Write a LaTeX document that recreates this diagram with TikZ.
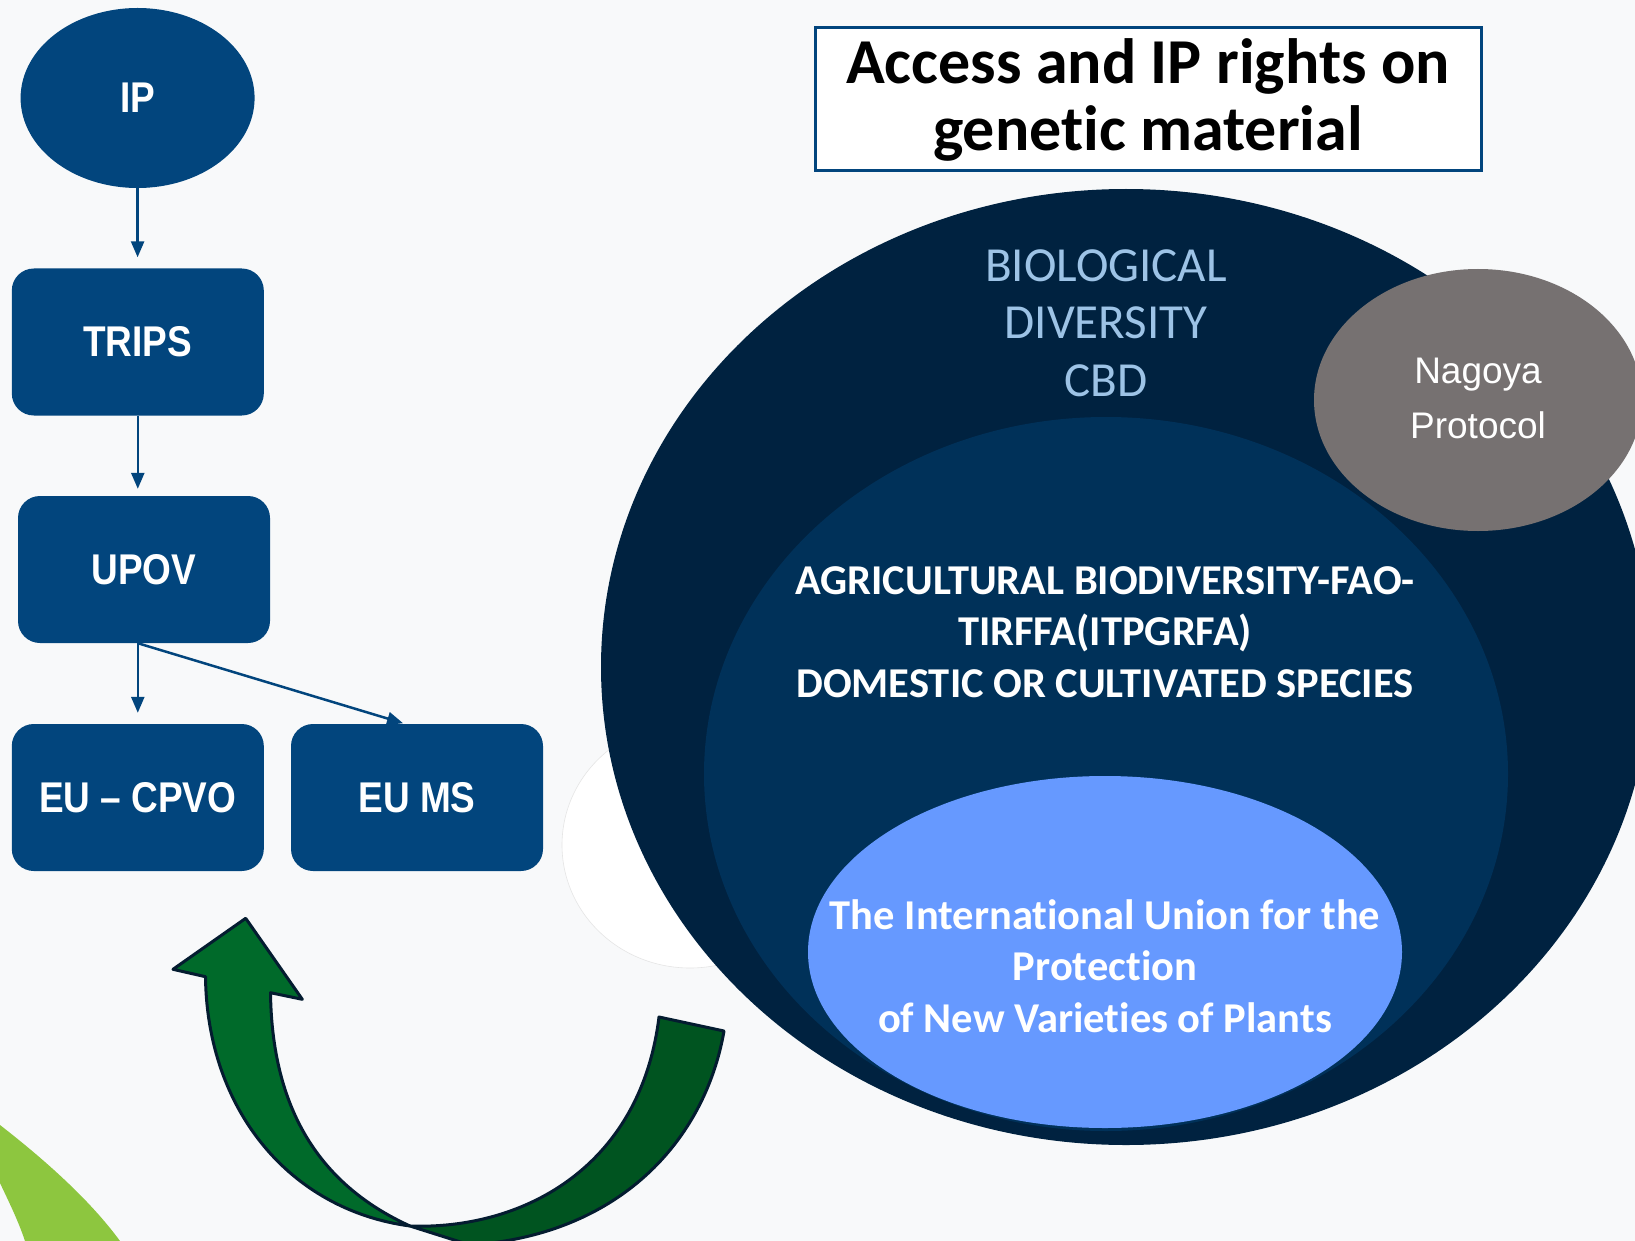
\documentclass[tikz,border=0pt]{standalone}
\usepackage{fontspec}
\setmainfont{Carlito}[Ligatures={NoCommon}]
\newfontfamily\arialfont{Liberation Sans}
\newfontfamily\narrowfont[FakeStretch=0.86]{Liberation Sans}
\usetikzlibrary{shapes.geometric,arrows.meta}

\definecolor{boxblue}{RGB}{2,69,125}
\definecolor{cbdnavy}{RGB}{0,34,64}
\definecolor{faonavy}{RGB}{0,49,89}
\definecolor{upovblue}{RGB}{102,153,255}
\definecolor{nagoyagray}{RGB}{118,113,113}
\definecolor{cbdtext}{RGB}{157,195,230}
\definecolor{arrowgreen}{RGB}{0,106,42}
\definecolor{arrowdark}{RGB}{0,84,32}
\definecolor{arrowedge}{RGB}{4,28,48}
\definecolor{limegreen}{RGB}{141,198,63}
\definecolor{pagebg}{RGB}{248,249,250}

\begin{document}
\begin{tikzpicture}[x=1pt,y=1pt,yscale=-1,
  bluebox/.style={fill=boxblue,rounded corners=22pt,minimum width=252pt,minimum height=147pt,inner sep=0pt,text=white,font=\narrowfont\bfseries\fontsize{43}{50}\selectfont},
  flowarrow/.style={draw=boxblue,line width=2.5pt,-{Triangle[length=16pt,width=13pt]},shorten >=11pt},
  bigarrow/.style={draw=arrowedge,line width=3pt,line join=round}]
\useasboundingbox (0,0) rectangle (1635,1241);
\clip (0,0) rectangle (1635,1241);
\fill[pagebg] (0,0) rectangle (1635,1241);

%Shape: Lime band
\fill[limegreen] (0,1125) .. controls (45,1160) and (90,1200) .. (120,1241) -- (25,1241) .. controls (18,1220) and (8,1200) .. (0,1183) -- cycle;
%Shape: Faint disc
\filldraw[fill=white,draw=black!10,line width=0.6pt] (690,845) ellipse [x radius=128,y radius=123];

%Shape: Nested ellipses
\fill[cbdnavy] (1126,667) ellipse [x radius=525,y radius=478];
\fill[faonavy] (1106,774) ellipse [x radius=402,y radius=357];
\fill[upovblue] (1105,952) ellipse [x radius=297,y radius=176];
\fill[nagoyagray] (1478,400) ellipse [x radius=164,y radius=131];

% Text Node
\node[draw=boxblue,line width=3pt,fill=white,minimum width=666pt,minimum height=143pt,align=center,font=\bfseries\fontsize{64}{67}\selectfont] (title) at (1148,99.5) {Access and IP rights on\\genetic material};
% Text Node
\node[text=cbdtext,align=center,font=\fontsize{49}{57.5}\selectfont] (cbd) at (1106,323) {BIOLOGICAL\\DIVERSITY\\CBD};
% Text Node
\node[text=white,align=center,font=\bfseries\fontsize{42.5}{51.5}\selectfont] (fao) at (1105,632) {AGRICULTURAL BIODIVERSITY-FAO-\\TIRFFA(ITPGRFA)\\DOMESTIC OR CULTIVATED SPECIES};
% Text Node
\node[text=white,align=center,font=\bfseries\fontsize{42.5}{51.5}\selectfont] (upovtext) at (1105,966) {The International Union for the\\Protection\\of New Varieties of Plants};
% Text Node
\node[text=white,align=center,font=\arialfont\fontsize{37}{55}\selectfont] (nagoya) at (1478,398.5) {Nagoya\\Protocol};

%Shape: Flow chart
\node[ellipse,fill=boxblue,minimum width=234pt,minimum height=180pt,inner sep=0pt,text=white,font=\narrowfont\bfseries\fontsize{43}{50}\selectfont] (ip) at (137.6,98) {IP};
\node[bluebox] (trips) at (137.8,342) {TRIPS};
\node[bluebox] (upov) at (144,569.5) {UPOV};
\node[bluebox] (cpvo) at (137.8,797.5) {EU \textendash{} CPVO};
\node[bluebox] (eums) at (417,797.5) {EU MS};

%Straight Lines
\draw[flowarrow] (ip.south) -- (ip.south |- trips.north);
\draw[flowarrow,shorten >=7pt] (trips.south) -- (trips.south |- upov.north);
\draw[flowarrow] (cpvo.north |- upov.south) -- (cpvo.north);
\draw[flowarrow,shorten >=2pt] (cpvo.north |- upov.south) -- ([xshift=-12pt]eums.north);

%Shape: Curved arrow
\filldraw[bigarrow,fill=arrowdark] (410,1226) .. controls (520,1230) and (640,1170) .. (659,1017) -- (724,1031) .. controls (705,1140) and (620,1235) .. (470,1245) -- cycle;
\filldraw[bigarrow,fill=arrowgreen] (245.7,918.3) -- (302.3,999.3) -- (270.5,992.7) .. controls (272,1110) and (320,1185) .. (410,1226) .. controls (290,1210) and (207,1110) .. (205.5,976.7) -- (173,969.3) -- cycle;

\end{tikzpicture}
\end{document}
